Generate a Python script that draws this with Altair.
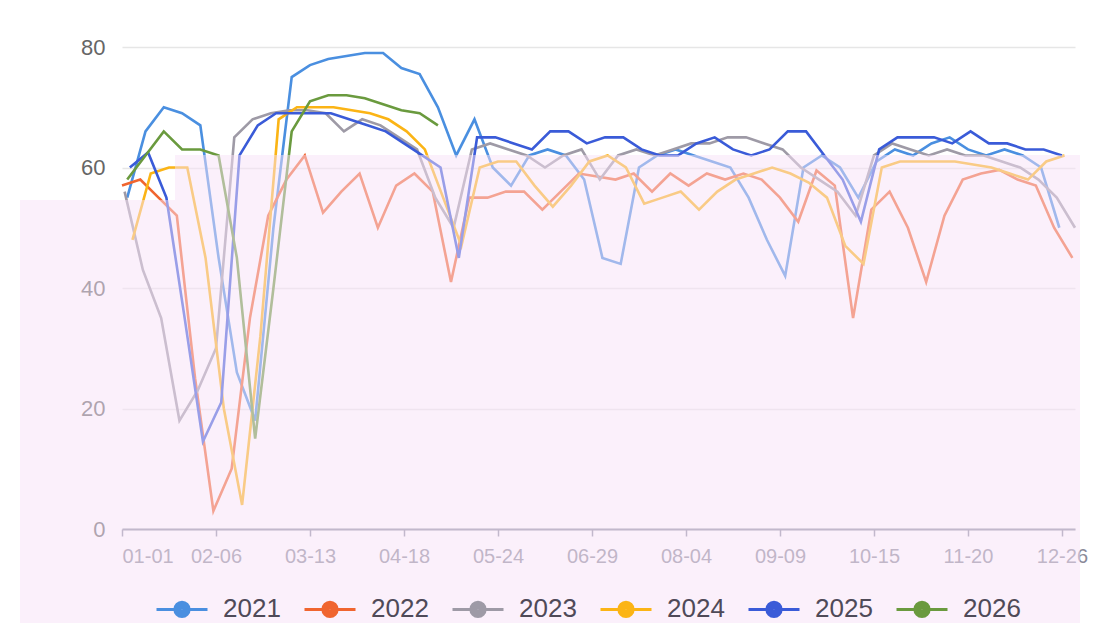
import json
import altair as alt
import pandas as pd

years = ["2021", "2022", "2023", "2024", "2025", "2026"]
colors = ["#4a8fe0", "#f0652f", "#9e9aa6", "#fbb415", "#3a5bd8", "#6a9a3e"]
start_day = [2, 0, 1, 4, 3, 2]
week_step = 7
x_labels = ["01-01", "02-06", "03-13", "04-18", "05-24", "06-29",
            "08-04", "09-09", "10-15", "11-20", "12-26"]
label_step = 36
y_ticks = [0, 20, 40, 60, 80]

v2021 = [55, 66, 70, 69, 67, 45, 26, 18, 50, 75, 77, 78, 78.5, 79, 79, 76.5, 75.5, 70,
         62, 68, 60, 57, 62, 63, 62, 58, 45, 44, 60, 62, 63, 62, 61, 60, 55, 48, 42, 60,
         62, 60, 55, 61, 63, 62, 64, 65, 63, 62, 63, 62, 60, 50]
v2022 = [57, 58, 55, 52, 25, 3, 10, 35, 52, 58, 62, 52.5, 56, 59, 50, 57, 59, 56, 41,
         55, 55, 56, 56, 53, 56, 59, 58.5, 58, 59, 56, 59, 57, 59, 58, 59, 58, 55, 51,
         59.5, 57, 35, 53, 56, 50, 41, 52, 58, 59, 59.6, 58, 57, 50, 45]
v2023 = [56, 43, 35, 18, 23, 30, 65, 68, 69, 69.5, 69.5, 69, 66, 68, 67, 65, 63, 55, 50,
         63, 64, 63, 62, 60, 62, 63, 58, 62, 63, 62, 63, 64, 64, 65, 65, 64, 63, 60, 58,
         56, 52, 62, 64, 63, 62, 63, 62, 62, 61, 60, 58, 55, 50]
v2024 = [48, 59, 60, 60, 45, 20, 4, 32, 68, 70, 70, 70, 69.5, 69, 68, 66, 63, 55, 47, 60,
         61, 61, 57, 53.5, 57, 61, 62, 60, 54, 55, 56, 53, 56, 58, 59, 60, 59, 57.5, 55,
         47, 44, 60, 61, 61, 61, 61, 60.5, 60, 59, 58, 61, 62]
v2025 = [60, 62.5, 55, 35, 14.5, 21, 62, 67, 69, 69, 69, 69, 68, 67, 66, 64, 62, 60, 45,
         65, 65, 64, 63, 66, 66, 64, 65, 65, 63, 62, 62, 64, 65, 63, 62, 63, 66, 66, 62,
         58, 51, 63, 65, 65, 65, 64, 66, 64, 64, 63, 63, 62]
v2026 = [58, 62, 66, 63, 63, 62, 45, 15, 40, 66, 71, 72, 72, 71.5, 70.5, 69.5, 69, 67]

series = [v2021, v2022, v2023, v2024, v2025, v2026]

rows = []
for yr, off, vals in zip(years, start_day, series):
    for i, v in enumerate(vals):
        rows.append({"year": yr, "day": off + week_step * i, "value": v})
df = pd.DataFrame(rows)

FONT = "Liberation Sans"
W, H = 953, 482


def ring(r):
    return f"M{r},0A{r},{r},0,1,1,-{r},0A{r},{r},0,1,1,{r},0"


# legend symbol: line with a (visually filled) dot in the middle
legend_path = "M-1,0L-0.28,0M0.28,0L1,0" + "".join(
    ring(r) for r in (0.28, 0.21, 0.14, 0.07, 0.02))

label_expr = f"{json.dumps(x_labels)}[round(datum.value / {label_step})]"

x_enc = alt.X("day:Q",
              scale=alt.Scale(domain=[0, 365], nice=False, zero=False),
              axis=alt.Axis(values=[i * label_step for i in range(len(x_labels))],
                            labelExpr=label_expr, title=None, grid=False,
                            domainColor="#8d8fa0", domainWidth=2, tickColor="#8d8fa0",
                            tickWidth=1.5, tickSize=7, labelFontSize=20,
                            labelColor="#8a8a98", labelPadding=10, labelFont=FONT))
y_enc = alt.Y("value:Q",
              scale=alt.Scale(domain=[0, 80], nice=False),
              axis=alt.Axis(values=y_ticks, title=None, domain=False, ticks=False,
                            grid=True, gridColor="#e6e6e6", gridWidth=1.5,
                            labelFontSize=22, labelColor="#666666", labelPadding=17,
                            labelFont=FONT))

lines = alt.Chart(df).mark_line(strokeWidth=2.6).encode(
    x=x_enc, y=y_enc,
    color=alt.Color("year:N", scale=alt.Scale(domain=years, range=colors),
                    legend=alt.Legend(title=None, orient="bottom", direction="horizontal",
                                      padding=33, offset=-17,
                                      symbolType=legend_path, symbolSize=2601,
                                      symbolStrokeWidth=3, labelFontSize=26,
                                      labelColor="#4f4a58", labelFont=FONT,
                                      labelOffset=14, columnPadding=17)),
)

one = alt.Data(values=[{"k": 0}])

overlay_main = alt.Chart(one).mark_rect(color="#f8e2f8", opacity=0.5).encode(
    x=alt.value(53), x2=alt.value(958), y=alt.value(108), y2=alt.value(590))
overlay_left = alt.Chart(one).mark_rect(color="#f8e2f8", opacity=0.5).encode(
    x=alt.value(-102), x2=alt.value(53), y=alt.value(153), y2=alt.value(590))
top_rule = alt.Chart(one).mark_rule(color="#000000", strokeWidth=3).encode(
    x=alt.value(-60), x2=alt.value(960), y=alt.value(-42))

chart = alt.layer(lines, overlay_main, overlay_left, top_rule).properties(
    width=W, height=H,
    autosize=alt.AutoSizeParams(type="none"),
    padding={"left": 114, "top": 39, "right": 16, "bottom": 94},
    background="#ffffff",
).configure_view(stroke=None)

chart.save("out.html", embed_options={"renderer": "svg", "actions": False})
